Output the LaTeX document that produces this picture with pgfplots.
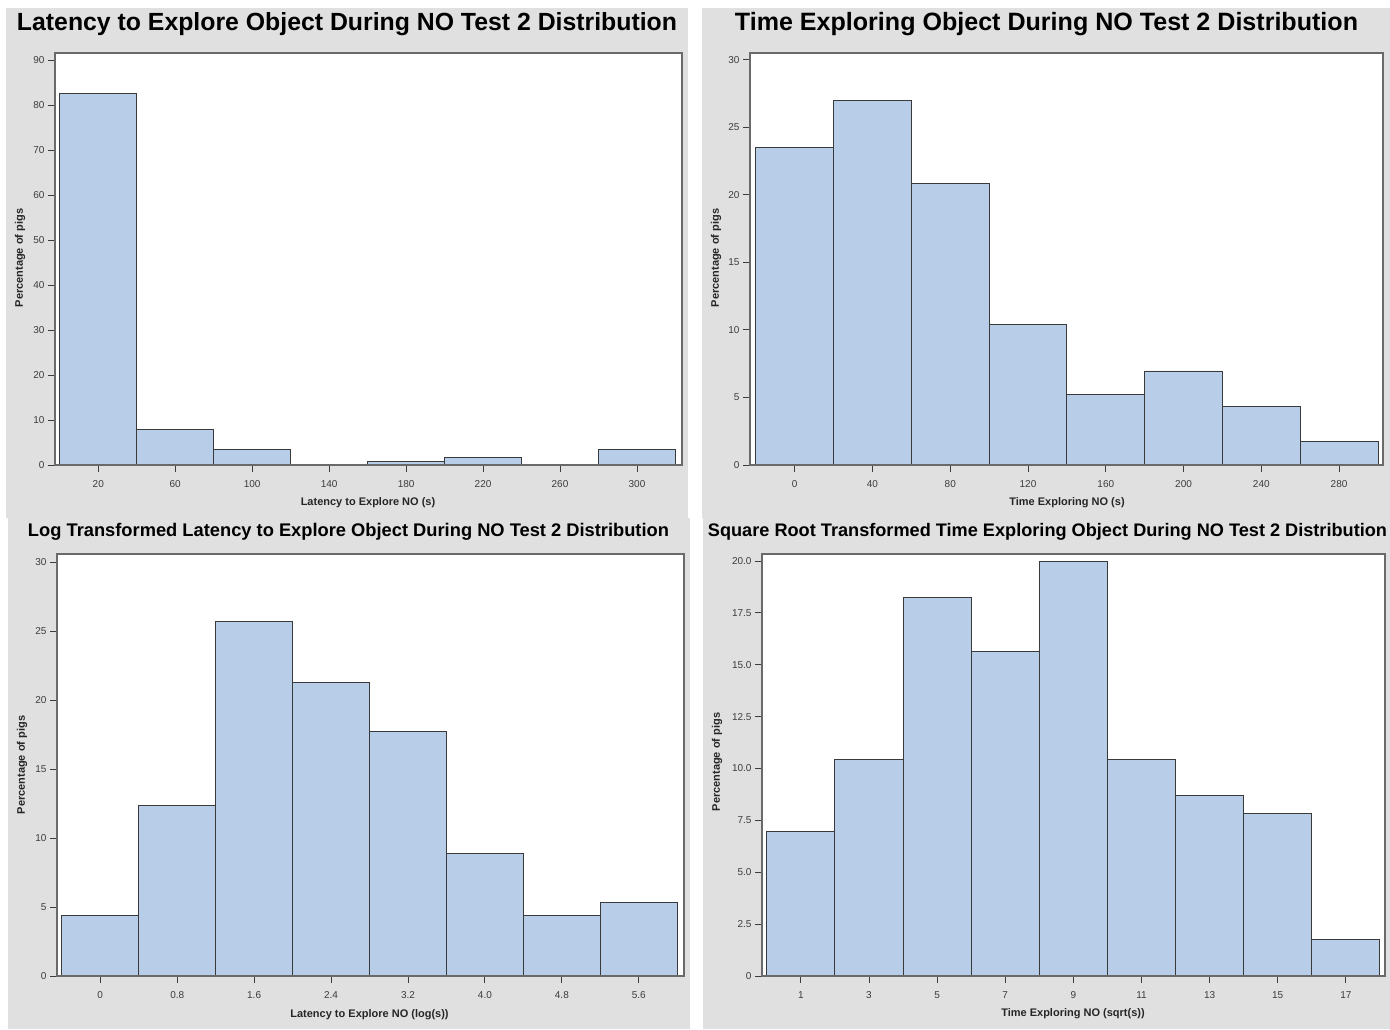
\documentclass[border=0pt]{standalone}
\usepackage{pgfplots}
\pgfplotsset{compat=1.18}
\usepackage{fontspec}
\setmainfont{Liberation Sans}
\usepackage{graphicx}

\definecolor{panelbg}{HTML}{E0E0E0}
\definecolor{barfill}{HTML}{B8CDE7}
\definecolor{baredge}{HTML}{3A3A3A}
\definecolor{axcol}{HTML}{6A6A6A}
\definecolor{tickcol}{HTML}{3C3C3C}

\pgfplotsset{
  panel/.style={
    scale only axis,
    anchor=south west,
    axis on top,
    axis background/.style={fill=white},
    axis line style={axcol, line width=1.4pt},
    tick style={tickcol, line width=0.9pt},
    major tick length=7pt,
    tick align=outside,
    xtick pos=left, ytick pos=left,
    ticklabel style={font=\fontsize{10}{12}\selectfont, text=tickcol},
    xticklabel style={yshift=-5pt},
    ymin=0,
    clip=false,
  },
  hbar/.style={ybar interval, fill=barfill, draw=baredge, line width=0.9pt},
}

\begin{document}
\begin{tikzpicture}
\useasboundingbox (0pt,0pt) rectangle (1390pt,1029pt);
\fill[white] (0pt,0pt) rectangle (1390pt,1029pt);
\fill[panelbg] (6pt,511pt) rectangle (688pt,1021pt);
\fill[panelbg] (702pt,511pt) rectangle (1390pt,1021pt);
\fill[panelbg] (8pt,0pt) rectangle (690pt,511pt);
\fill[panelbg] (703pt,0pt) rectangle (1390pt,511pt);

% ---------- Top left ----------
\begin{axis}[panel, at={(55pt,564pt)}, width=627pt, height=412pt,
  xmin=-2.5, xmax=323.4, ymax=91.6,
  xtick={20,60,100,140,180,220,260,300},
  xticklabels={20,60,100,140,180,220,260,300},
  ytick={0,10,20,30,40,50,60,70,80,90},
  yticklabels={0,10,20,30,40,50,60,70,80,90}]
\addplot[hbar] coordinates {(0,82.61) (40,7.83) (80,3.48) (120,0) (160,0.87) (200,1.74) (240,0) (280,3.48) (320,3.48)};
\end{axis}

% ---------- Top right ----------
\begin{axis}[panel, at={(750pt,564pt)}, width=633pt, height=412pt,
  xmin=-23, xmax=302.6, ymax=30.5,
  xtick={0,40,80,120,160,200,240,280},
  xticklabels={0,40,80,120,160,200,240,280},
  ytick={0,5,10,15,20,25,30},
  yticklabels={0,5,10,15,20,25,30}]
\addplot[hbar] coordinates {(-20,23.48) (20,26.96) (60,20.87) (100,10.43) (140,5.22) (180,6.96) (220,4.35) (260,1.74) (300,1.74)};
\end{axis}

% ---------- Bottom left ----------
\begin{axis}[panel, at={(57pt,53pt)}, width=627pt, height=422pt,
  xmin=-0.45, xmax=6.07, ymax=30.58,
  xtick={0,0.8,1.6,2.4,3.2,4.0,4.8,5.6},
  xticklabels={0,0.8,1.6,2.4,3.2,4.0,4.8,5.6},
  ytick={0,5,10,15,20,25,30},
  yticklabels={0,5,10,15,20,25,30}]
\addplot[hbar] coordinates {(-0.4,4.42) (0.4,12.39) (1.2,25.66) (2.0,21.24) (2.8,17.70) (3.6,8.85) (4.4,4.42) (5.2,5.31) (6.0,5.31)};
\end{axis}

% ---------- Bottom right ----------
\begin{axis}[panel, at={(762pt,53pt)}, width=623pt, height=422pt,
  xmin=-0.14, xmax=18.15, ymax=20.34,
  xtick={1,3,5,7,9,11,13,15,17},
  xticklabels={1,3,5,7,9,11,13,15,17},
  ytick={0,2.5,5,7.5,10,12.5,15,17.5,20},
  yticklabels={0,2.5,5.0,7.5,10.0,12.5,15.0,17.5,20.0}]
\addplot[hbar] coordinates {(0,6.96) (2,10.43) (4,18.26) (6,15.65) (8,20.0) (10,10.43) (12,8.70) (14,7.83) (16,1.74) (18,1.74)};
\end{axis}

% ---------- Titles ----------
\node[anchor=base] at (347pt,998pt) {\resizebox{660pt}{!}{\bfseries Latency to Explore Object During NO Test 2 Distribution}};
\node[anchor=base] at (1046.5pt,998pt) {\resizebox{623pt}{!}{\bfseries Time Exploring Object During NO Test 2 Distribution}};
\node[anchor=base] at (348.5pt,492pt) {\resizebox{641pt}{!}{\bfseries Log Transformed Latency to Explore Object During NO Test 2 Distribution}};
\node[anchor=base] at (1047.5pt,492pt) {\resizebox{679pt}{!}{\bfseries Square Root Transformed Time Exploring Object During NO Test 2 Distribution}};

% ---------- Axis labels ----------
\tikzset{lab/.style={font=\bfseries\fontsize{11}{13}\selectfont, text=black!85, inner sep=0pt}}
\node[lab] at (368pt,526pt) {Latency to Explore NO (s)};
\node[lab] at (1067pt,526pt) {Time Exploring NO (s)};
\node[lab] at (369.5pt,14pt) {Latency to Explore NO (log(s))};
\node[lab] at (1073pt,15pt) {Time Exploring NO (sqrt(s))};
\node[lab, rotate=90] at (20pt,771pt) {Percentage of pigs};
\node[lab, rotate=90] at (716pt,771pt) {Percentage of pigs};
\node[lab, rotate=90] at (22pt,264pt) {Percentage of pigs};
\node[lab, rotate=90] at (717pt,267pt) {Percentage of pigs};
\end{tikzpicture}
\end{document}
